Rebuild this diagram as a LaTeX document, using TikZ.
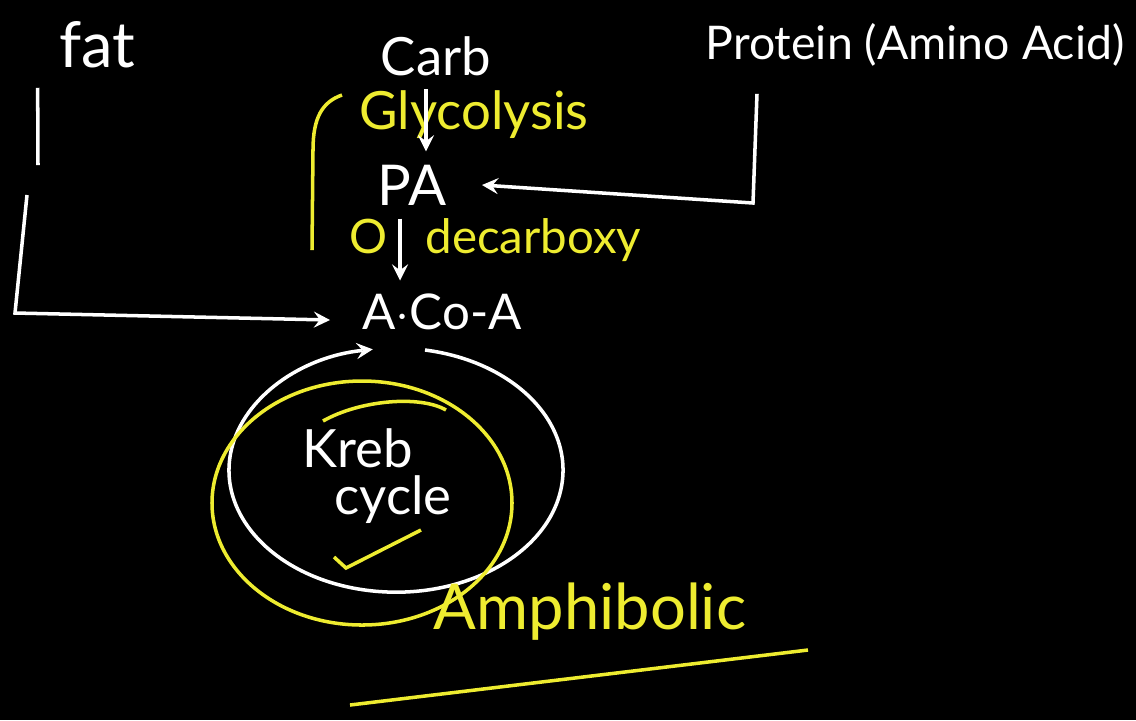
\documentclass[tikz,border=0pt]{standalone}
\usepackage{fontspec}
\setmainfont{Lato}
\definecolor{marker}{RGB}{238,236,48}

\begin{document}
\begin{tikzpicture}[x=0.01cm,y=-0.01cm,>=stealth,line width=1pt,
  chalk/.style={white,font=\fontsize{15}{18}\selectfont},
  hilite/.style={marker,font=\fontsize{15}{18}\selectfont}]
\fill[black] (0,0) rectangle (1136,720);
\useasboundingbox (0,0) rectangle (1136,720);
% sources
\node[chalk,font=\fontsize{18}{22}\selectfont] (fat) at (97,45) {fat};
\node[chalk] (carb) at (436,56) {Carb};
\node[chalk,font=\fontsize{13.2}{16}\selectfont] (protein) at (915,45) {Protein (Amino Acid)};
% carb path
\node[hilite] (glyco) at (474,115) {Glycolysis};
\node[chalk,font=\fontsize{16}{19}\selectfont] (pa) at (412,185) {PA};
\node[hilite,anchor=west,font=\fontsize{13.5}{16}\selectfont] (oxdec) at (336,240) {O\hspace{0.8em}decarboxy};
\node[chalk,font=\fontsize{14}{17}\selectfont] (acoa) at (442,312) {A$\cdot$Co-A};
\draw[marker] (342,95) .. controls (322,102) and (313,118) .. (313,150) -- (312,250);
\draw[white,->] (carb.south -| 426,0) -- (pa.north -| 426,0);
\draw[white,->] (pa.south -| 400,0) -- (acoa.north -| 400,0);
% side inputs
\coordinate (pbend) at (753,203);
\draw[white,->] (protein.south -| pbend) ++(4,14) -- (pbend) -- (482,185);
\coordinate (fbend) at (15,313);
\draw[white] (fat.south west) ++(-8,6) -- (38,165);
\draw[white,->] (27,195) -- (fbend) -- (330,320);
% kreb cycle
\node[chalk,align=left,font=\fontsize{15}{13.5}\selectfont] (kreb) at (377,476) {Kreb\\\hspace{9pt}cycle};
\draw[white,->] (425,350) arc[start angle=-80,end angle=262,x radius=167,y radius=122];
\draw[marker] (362,503) ellipse[x radius=150,y radius=122];
\draw[marker] (323,421) .. controls (360,400) and (420,395) .. (446,410);
\draw[marker] (334,557) -- (346,568) -- (421,530);
% result
\node[marker,font=\fontsize{18}{22}\selectfont] (amphi) at (590,612) {Amphibolic};
\draw[marker] (350,705) -- (808,650);
\end{tikzpicture}
\end{document}
